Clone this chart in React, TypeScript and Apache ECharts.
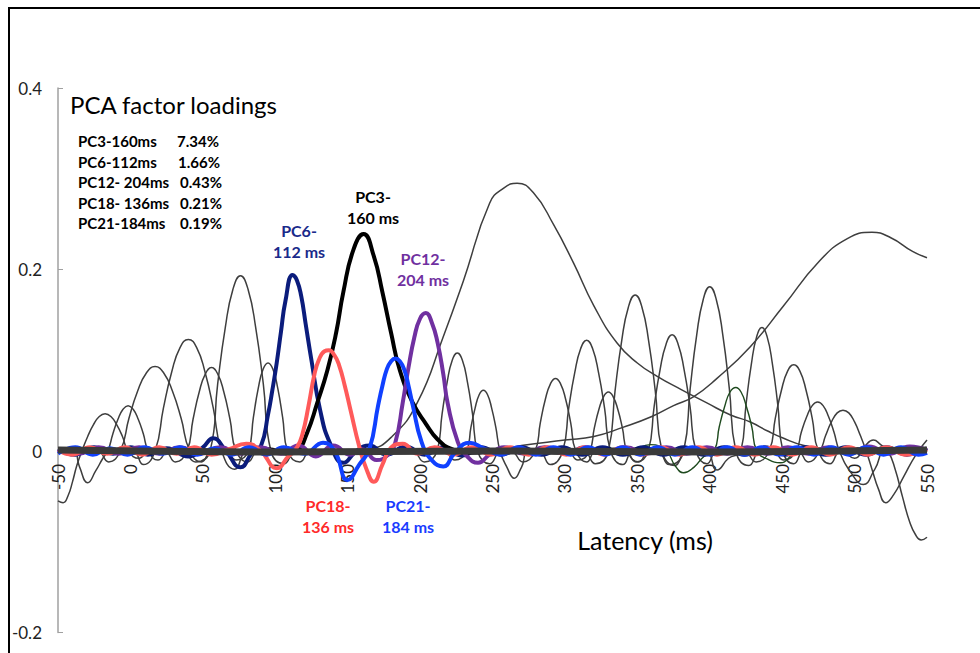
import React, { useEffect, useRef } from "react";
import * as echarts from "echarts";

type Pt = [number, number];

// Axis ranges
const xMin = -50;
const xMax = 550;
const xStep = 50;
const yMin = -0.2;
const yMax = 0.4;
const yStep = 0.2;

// Legend block
const legendNames = ["PC3-160ms", "PC6-112ms", "PC12- 204ms", "PC18- 136ms", "PC21-184ms"];
const legendPercents = ["7.34%", "1.66%", "0.43%", "0.21%", "0.19%"];

// Component labels
const labelPC6 = ["PC6-", "112 ms"];
const labelPC3 = ["PC3-", "160 ms"];
const labelPC12 = ["PC12-", "204 ms"];
const labelPC18 = ["PC18-", "136 ms"];
const labelPC21 = ["PC21-", "184 ms"];

// Highlighted components (latency ms, loading)
const pc3: Pt[] = [[-50,0],[-20,0.002],[10,-0.002],[40,0.002],[70,-0.002],[95,0.002],[108,-0.003],[115,0],[122,0.02],[129,0.053],[136,0.089],[142,0.13],[147,0.175],[154,0.222],[161,0.239],[168,0.215],[174,0.175],[180,0.13],[186,0.089],[195,0.053],[204,0.03],[212,0.013],[222,0.002],[235,-0.002],[260,0.002],[300,-0.002],[340,0.002],[380,-0.002],[420,0.002],[460,-0.002],[500,0.002],[550,0]];

const pc6: Pt[] = [[-50,0.002],[-38,-0.004],[-25,0.004],[-12,-0.003],[0,0.004],[12,-0.004],[25,0.003],[40,-0.006],[50,0.004],[57,0.014],[66,0],[76,-0.018],[84,-0.002],[90,0.005],[95,0.04],[98,0.067],[101,0.097],[104,0.132],[107,0.165],[112,0.194],[115,0.188],[118,0.17],[121,0.14],[125,0.1],[131,0.045],[138,0.008],[147,-0.013],[156,0],[165,0.006],[177,-0.004],[190,0.005],[203,-0.004],[216,0.004],[229,-0.005],[242,0.004],[256,-0.004],[270,0.004],[284,-0.004],[298,0.004],[312,-0.004],[326,0.004],[340,-0.004],[354,0.004],[368,-0.004],[382,0.004],[396,-0.004],[410,0.004],[424,-0.004],[438,0.004],[452,-0.004],[466,0.004],[480,-0.004],[494,0.004],[508,-0.004],[522,0.004],[536,-0.004],[550,0.003]];

const pc12: Pt[] = [[-50,0.002],[-36,-0.003],[-22,0.004],[-8,-0.003],[6,0.004],[20,-0.003],[34,0.004],[48,-0.003],[62,0.004],[76,-0.003],[90,0.004],[104,-0.003],[116,0.006],[128,-0.006],[140,0.006],[152,-0.004],[160,0.002],[170,-0.01],[178,-0.004],[183,0.01],[188,0.053],[192,0.092],[196,0.125],[200,0.146],[204,0.152],[208,0.142],[212,0.12],[216,0.085],[219,0.053],[226,0.01],[232,-0.005],[240,-0.013],[248,-0.004],[258,0.004],[272,-0.003],[286,0.004],[300,-0.003],[314,0.004],[328,-0.003],[342,0.004],[356,-0.003],[370,0.004],[384,-0.003],[398,0.004],[412,-0.003],[426,0.004],[440,-0.003],[454,0.004],[468,-0.003],[482,0.004],[496,-0.003],[510,0.005],[524,-0.003],[538,0.005],[550,0.001]];

const pc18: Pt[] = [[-50,0.001],[-40,-0.004],[-28,0.004],[-16,-0.003],[-4,0.004],[8,-0.004],[20,0.004],[32,-0.003],[44,0.004],[56,-0.004],[68,0.002],[80,0.008],[90,0],[101,-0.019],[109,-0.006],[115,0.004],[119,0.02],[123,0.05],[127,0.084],[130,0.1],[134,0.11],[137,0.111],[141,0.105],[144,0.095],[148,0.072],[152,0.045],[158,0.005],[163,-0.02],[168,-0.034],[174,-0.015],[180,0.004],[188,0.008],[198,-0.003],[210,0.004],[223,-0.004],[236,0.004],[249,-0.004],[262,0.004],[275,-0.004],[288,0.004],[301,-0.004],[314,0.004],[327,-0.004],[340,0.004],[353,-0.004],[366,0.004],[379,-0.004],[392,0.004],[405,-0.004],[418,0.004],[431,-0.004],[444,0.004],[457,-0.004],[470,0.004],[483,-0.004],[496,0.004],[509,-0.004],[522,0.004],[535,-0.004],[550,0.002]];

const pc21: Pt[] = [[-50,-0.003],[-38,0.004],[-26,-0.004],[-14,0.003],[-2,-0.004],[10,0.004],[22,-0.003],[34,0.004],[46,-0.004],[58,0.003],[70,-0.004],[82,0.004],[94,-0.004],[106,0.004],[120,-0.003],[133,0.009],[141,0],[150,-0.032],[158,-0.015],[165,0.002],[171,0.05],[174,0.072],[177,0.09],[180,0.099],[183,0.102],[186,0.099],[189,0.09],[192,0.072],[195,0.05],[201,0.01],[208,-0.01],[216,-0.017],[224,-0.002],[234,0.009],[244,0.003],[256,-0.004],[268,0.004],[280,-0.004],[292,0.004],[304,-0.004],[316,0.004],[328,-0.004],[340,0.004],[352,-0.004],[364,0.004],[376,-0.004],[388,0.004],[400,-0.004],[412,0.004],[424,-0.004],[436,0.004],[448,-0.004],[460,0.004],[472,-0.004],[484,0.004],[496,-0.004],[508,0.004],[520,-0.004],[532,0.004],[544,-0.004],[550,-0.002]];

const greenPC: Pt[] = [[-50,0],[-30,0.002],[0,-0.002],[30,0.002],[60,-0.002],[100,0.002],[140,-0.002],[180,0.002],[220,-0.002],[260,0.002],[300,-0.003],[330,0.002],[345,0.001],[359,0.007],[370,0],[376,-0.016],[382,-0.024],[389,-0.018],[396,-0.006],[403,0],[406.6,0.027],[410.3,0.049],[414,0.065],[418,0.07],[421.6,0.065],[425.3,0.049],[429,0.027],[432.5,0],[440,-0.009],[449,-0.013],[458,-0.003],[470,0.004],[490,0],[520,0.002],[550,0]];

// Dense band of remaining components around zero
const zeroBand: Pt[] = [[-50,0.001],[100,-0.001],[250,0],[400,-0.001],[550,0.001]];

// Remaining (grey) components
const grayCurves: Pt[][] = [
  [[-50,-0.055],[-46.5,-0.057],[-43,-0.049],[-40,-0.034],[-37,-0.016],[-33.5,0],[-29.5,0.016],[-25.5,0.029],[-21.5,0.038],[-17.5,0.041],[-13.5,0.038],[-9.5,0.029],[-5.5,0.016],[-1.5,0],[6,-0.008],[13,0],[550,0]],
  [[-50,0],[-40,0.004],[-35,-0.018],[-29.5,-0.035],[-24,-0.022],[-19,-0.008],[-15.6,0],[-12.1,0.019],[-8.6,0.035],[-5.1,0.046],[-1.6,0.05],[1.9,0.046],[5.4,0.035],[8.9,0.019],[12.4,0],[19,-0.01],[27,0],[550,0]],
  [[-50,0],[-23,0],[-15,-0.012],[-7,0],[-1,0.036],[5,0.066],[11,0.086],[17,0.093],[23,0.086],[29,0.066],[35,0.036],[41,0],[49,-0.012],[57,0],[550,0]],
  [[-50,0],[1,0],[9,-0.015],[17,0],[22.75,0.047],[28.5,0.087],[34.25,0.114],[40,0.123],[45.75,0.114],[51.5,0.087],[57.25,0.047],[63,0],[72,-0.02],[82,0],[550,0]],
  [[-50,0],[23,0],[31,-0.012],[39,0],[43.25,0.035],[47.5,0.065],[51.75,0.085],[56,0.092],[60.25,0.085],[64.5,0.065],[68.75,0.035],[73,0],[81,-0.012],[89,0],[550,0]],
  [[-50,0],[35,0],[45,-0.012],[55,0],[60.25,0.074],[65.5,0.136],[70.75,0.178],[76,0.193],[81.25,0.178],[86.5,0.136],[91.75,0.074],[97,0],[106,-0.014],[115,0],[550,0]],
  [[-50,0],[65,0],[73,-0.01],[81.5,0],[84.9,0.037],[88.25,0.069],[91.6,0.09],[95,0.097],[98.4,0.09],[101.75,0.069],[105.1,0.037],[108.5,0],[117,-0.012],[125,0],[550,0]],
  [[-50,0],[150,0],[165,0.002],[180,0.015],[198,0.053],[216,0.126],[230,0.188],[248,0.273],[258,0.29],[267,0.295],[278,0.285],[292,0.25],[306,0.207],[320,0.16],[336,0.119],[350,0.097],[364,0.082],[380,0.068],[398,0.053],[414,0.04],[428,0.032],[440,0.022],[451,0.014],[465,0.006],[480,0.002],[500,0],[550,0]],
  [[-50,0],[250,0],[270,0.006],[300,0.012],[320,0.016],[340,0.026],[360,0.038],[375,0.05],[389,0.06],[405,0.08],[428,0.115],[451,0.16],[475,0.208],[495,0.234],[512,0.241],[525,0.235],[540,0.22],[550,0.213]],
  [[-50,0],[194,0],[203,-0.012],[211.7,0],[215.2,0.041],[218.7,0.076],[222.2,0.1],[225.7,0.108],[229.2,0.1],[232.7,0.076],[236.2,0.041],[239.7,0],[248,-0.014],[257,0],[550,0]],
  [[-50,0],[216,0],[224,-0.01],[232.2,0],[235.1,0.026],[237.95,0.047],[240.8,0.062],[243.7,0.067],[246.6,0.062],[249.45,0.047],[252.3,0.026],[255.2,0],[260,-0.018],[265,-0.03],[270,-0.018],[276,0],[550,0]],
  [[-50,0],[262,0],[271,-0.012],[279.5,0],[283,0.031],[286.5,0.057],[290,0.074],[293.5,0.08],[297,0.074],[300.5,0.057],[304,0.031],[307.5,0],[315,-0.012],[322,0],[550,0]],
  [[-50,0],[281,0],[290,-0.015],[298.5,0],[302.6,0.047],[306.75,0.086],[310.9,0.113],[315,0.122],[319.1,0.113],[323.25,0.086],[327.4,0.047],[331.5,0],[340,-0.015],[348,0],[550,0]],
  [[-50,0],[301,0],[309,-0.01],[317,0],[320.25,0.025],[323.5,0.046],[326.75,0.06],[330,0.065],[333.25,0.06],[336.5,0.046],[339.75,0.025],[343,0],[351,-0.012],[359,0],[550,0]],
  [[-50,0],[312,0],[321,-0.014],[330,0],[334.6,0.066],[339.25,0.122],[343.9,0.159],[348.5,0.172],[353.1,0.159],[357.75,0.122],[362.4,0.066],[367,0],[376,-0.016],[385,0],[550,0]],
  [[-50,0],[341,0],[349,-0.012],[357.5,0],[361.6,0.049],[365.75,0.09],[369.9,0.118],[374,0.128],[378.1,0.118],[382.25,0.09],[386.4,0.049],[390.5,0],[398,-0.014],[406,0],[550,0]],
  [[-50,0],[363,0],[372,-0.015],[382,0],[386.5,0.069],[391,0.128],[395.5,0.167],[400,0.181],[404.5,0.167],[409,0.128],[413.5,0.069],[418,0],[427,-0.016],[436,0],[550,0]],
  [[-50,0],[396,0],[405,-0.021],[413,-0.008],[421.5,0],[425.1,0.052],[428.75,0.096],[432.4,0.126],[436,0.136],[439.6,0.126],[443.25,0.096],[446.9,0.052],[450.5,0],[458,-0.014],[466,0],[550,0]],
  [[-50,0],[423,0],[432,-0.012],[441,0],[445.25,0.036],[449.5,0.067],[453.75,0.088],[458,0.095],[462.25,0.088],[466.5,0.067],[470.75,0.036],[475,0],[483,-0.014],[491,0],[550,0]],
  [[-50,0],[443,0],[451,-0.01],[459.5,0],[463.25,0.021],[467,0.038],[470.75,0.05],[474.5,0.054],[478.25,0.05],[482,0.038],[485.75,0.021],[489.5,0],[498,-0.025],[506,-0.037],[514,-0.02],[522,0],[550,0]],
  [[-50,0],[460,0],[468,-0.012],[476,0],[480,0.017],[484,0.032],[488,0.042],[492,0.045],[496,0.042],[500,0.032],[504,0.017],[508,0],[512,-0.02],[516.5,-0.042],[521.5,-0.057],[527,-0.048],[534,-0.028],[542,-0.005],[550,0.012]],
  [[-50,0],[490,0],[500,-0.008],[507,0.005],[513,0.012],[518,0.007],[523,0],[528,-0.02],[533,-0.05],[538,-0.078],[542,-0.092],[546,-0.098],[550,-0.095]],
];

const FONT = "Lato, 'Open Sans', sans-serif";

function lineSeries(data: Pt[], color: string, width: number) {
  return {
    type: "line",
    data,
    smooth: 0.5,
    symbol: "none",
    silent: true,
    lineStyle: { color, width },
  };
}

function twoLineLabel(lines: string[], cx: number, cy: number, color: string) {
  return lines.map((t, i) => ({
    type: "text",
    x: cx,
    y: cy + i * 21,
    style: {
      text: t,
      fill: color,
      fontFamily: FONT,
      fontWeight: "bold",
      fontSize: 16,
      align: "center",
      verticalAlign: "middle",
    },
  }));
}

export default function App() {
  const ref = useRef<HTMLDivElement>(null);

  useEffect(() => {
    if (!ref.current) return;
    const chart = echarts.init(ref.current, undefined, { renderer: "svg" });

    const gridTop = 88;
    const gridBottom = 20.5;
    const plotH = 653 - gridTop - gridBottom;
    const zeroFromBottom = plotH * ((0 - yMin) / (yMax - yMin));

    const legendGraphics: any[] = [];
    const percentX = [177, 178, 180, 180, 180];
    legendNames.forEach((n, i) => {
      legendGraphics.push({
        type: "text",
        x: 78,
        y: 141 + i * 20.6,
        style: { text: n, fill: "#000", fontFamily: FONT, fontWeight: "bold", fontSize: 15, align: "left", verticalAlign: "middle" },
      });
      legendGraphics.push({
        type: "text",
        x: percentX[i],
        y: 141 + i * 20.6,
        style: { text: legendPercents[i], fill: "#000", fontFamily: FONT, fontWeight: "bold", fontSize: 15, align: "left", verticalAlign: "middle" },
      });
    });

    const option: any = {
      animation: false,
      backgroundColor: "#ffffff",
      grid: { left: 58, right: 53, top: gridTop, bottom: gridBottom, containLabel: false, outerBoundsMode: "none" },
      xAxis: {
        type: "value",
        min: xMin,
        max: xMax,
        interval: xStep,
        position: "bottom",
        offset: -zeroFromBottom,
        axisLine: { onZero: false, lineStyle: { color: "#8a8a8a", width: 1 } },
        axisTick: { show: false },
        splitLine: { show: false },
        axisLabel: {
          rotate: 90,
          margin: 13,
          fontSize: 17,
          fontFamily: FONT,
          color: "#222",
        },
      },
      yAxis: {
        type: "value",
        min: yMin,
        max: yMax,
        interval: yStep,
        axisLine: { show: true, onZero: false, lineStyle: { color: "#a0a0a0", width: 1.5 } },
        axisTick: { show: true, inside: true, length: 5, lineStyle: { color: "#a0a0a0" } },
        splitLine: { show: false },
        axisLabel: {
          margin: 16,
          fontSize: 17,
          fontFamily: FONT,
          color: "#222",
          formatter: (v: number) => (Math.abs(v) < 1e-9 ? "0" : String(Math.round(v * 10) / 10)),
        },
      },
      series: [
        ...grayCurves.map((c) => lineSeries(c, "#3e3e3e", 1.5)),
        lineSeries(greenPC, "#1e4a1e", 1.4),
        lineSeries(pc6, "#0b1c7c", 4),
        lineSeries(pc3, "#000000", 4),
        lineSeries(pc12, "#7030a0", 4),
        lineSeries(pc18, "#ff5a5a", 4),
        lineSeries(pc21, "#1040ff", 4),
        lineSeries(zeroBand, "#3a3a3a", 7),
      ],
      graphic: [
        {
          type: "rect",
          shape: { x: 9, y: 8, width: 1100, height: 800 },
          style: { fill: "none", stroke: "#000", lineWidth: 2 },
          silent: true,
        },
        {
          type: "text",
          x: 70,
          y: 104,
          style: { text: "PCA factor loadings", fill: "#000", fontFamily: FONT, fontSize: 24, align: "left", verticalAlign: "middle" },
        },
        ...legendGraphics,
        ...twoLineLabel(labelPC6, 299, 230, "#1a2a8a"),
        ...twoLineLabel(labelPC3, 373, 196, "#000000"),
        ...twoLineLabel(labelPC12, 423, 258, "#7030a0"),
        ...twoLineLabel(labelPC18, 328, 505, "#ff2a2a"),
        ...twoLineLabel(labelPC21, 408, 505, "#1a3cff"),
        {
          type: "text",
          x: 645,
          y: 540,
          style: { text: "Latency (ms)", fill: "#000", fontFamily: FONT, fontSize: 25, align: "center", verticalAlign: "middle" },
        },
      ],
    };

    chart.setOption(option);
    return () => chart.dispose();
  }, []);

  return (
    <div
      ref={ref}
      style={{ position: "fixed", left: 0, top: 0, width: 980, height: 653, background: "#fff" }}
    />
  );
}
